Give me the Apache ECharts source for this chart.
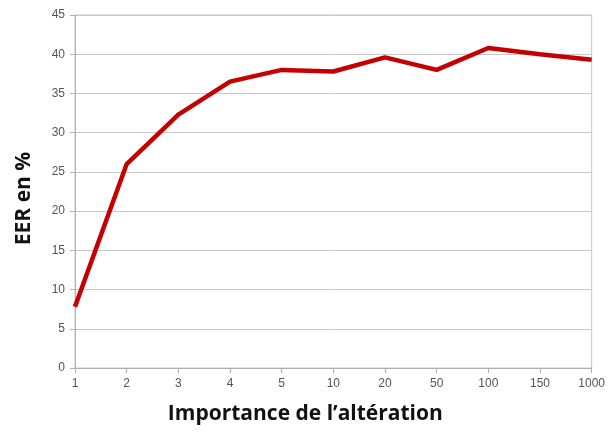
<!DOCTYPE html>
<html>
<head>
<meta charset="utf-8">
<script src="https://cdn.jsdelivr.net/npm/echarts@6/dist/echarts.min.js"></script>
<style>
  html, body { margin: 0; padding: 0; background: #fff; }
  #chart { width: 608px; height: 439px; }
</style>
</head>
<body>
<div id="chart"></div>
<script>
// niveaux d'altération (axe x) et EER mesuré
const levels = ['1', '2', '3', '4', '5', '10', '20', '50', '100', '150', '1000']
const eer = [7.8, 26.0, 32.3, 36.5, 38.0, 37.8, 39.6, 38.0, 40.8, 40.0, 39.3]

const chart = echarts.init(document.getElementById('chart'))
chart.setOption({
    animation: false,
    grid: {
        left: 75,
        right: 15,
        top: 15,
        bottom: 71,
        show: true,
        borderColor: '#c8c8c8',
        borderWidth: 1
    },
    xAxis: {
        type: 'category',
        data: levels,
        boundaryGap: false,
        name: 'Importance de l\u2019altération',
        nameLocation: 'middle',
        nameGap: 36,
        nameTextStyle: {
            fontFamily: 'Open Sans',
            fontWeight: 'bold',
            fontSize: 21,
            color: '#111',
            padding: [0, 56, 0, 0]
        },
        axisLine: { lineStyle: { color: '#b0b0b0', width: 1 } },
        axisTick: { show: true, length: 5, lineStyle: { color: '#b0b0b0' } },
        axisLabel: { color: '#555', fontSize: 12, fontFamily: 'Liberation Sans', margin: 10 }
    },
    yAxis: {
        type: 'value',
        min: 0,
        max: 45,
        interval: 5,
        name: 'EER en %',
        nameLocation: 'middle',
        nameGap: 40,
        nameTextStyle: {
            fontFamily: 'Open Sans',
            fontWeight: 'bold',
            fontSize: 21,
            color: '#111',
            padding: [0, 14, 0, 0]
        },
        axisLine: { show: true, lineStyle: { color: '#b0b0b0', width: 1 } },
        axisTick: { show: true, length: 5, lineStyle: { color: '#b0b0b0' } },
        axisLabel: { color: '#555', fontSize: 12, fontFamily: 'Liberation Sans', margin: 10 },
        splitLine: { lineStyle: { color: '#c8c8c8', width: 1 } }
    },
    series: [
        {
            type: 'line',
            data: eer,
            symbol: 'none',
            lineStyle: { color: '#c40000', width: 4.5 }
        }
    ]
})
</script>
</body>
</html>
